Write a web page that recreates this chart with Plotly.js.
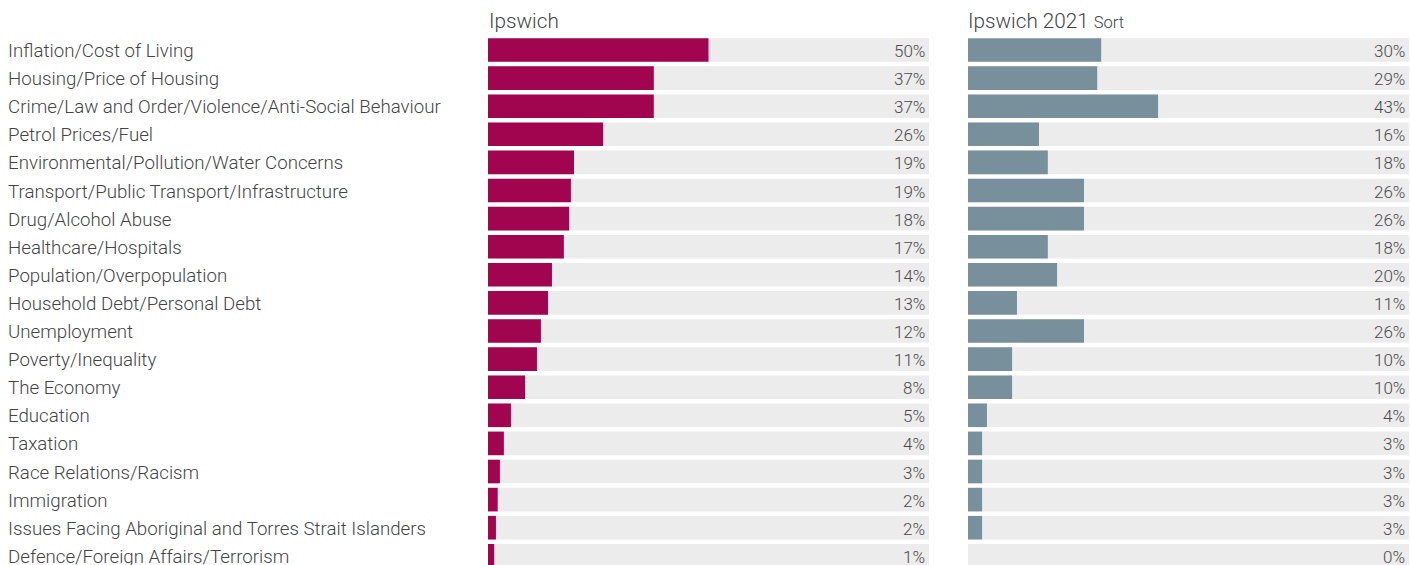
<!DOCTYPE html>
<html>
<head>
<meta charset="utf-8">
<script src="https://cdn.plot.ly/plotly-3.0.1.min.js"></script>
<style>html,body{margin:0;padding:0;background:#fff;}#chart{width:1410px;height:565px;}</style>
</head>
<body>
<div id="chart"></div>
<script>
var categories = [
  "Inflation/Cost of Living",
  "Housing/Price of Housing",
  "Crime/Law and Order/Violence/Anti-Social Behaviour",
  "Petrol Prices/Fuel",
  "Environmental/Pollution/Water Concerns",
  "Transport/Public Transport/Infrastructure",
  "Drug/Alcohol Abuse",
  "Healthcare/Hospitals",
  "Population/Overpopulation",
  "Household Debt/Personal Debt",
  "Unemployment",
  "Poverty/Inequality",
  "The Economy",
  "Education",
  "Taxation",
  "Race Relations/Racism",
  "Immigration",
  "Issues Facing Aboriginal and Torres Strait Islanders",
  "Defence/Foreign Affairs/Terrorism"
];
var ipswich = [50.0, 37.6, 37.6, 26.1, 19.5, 18.8, 18.4, 17.2, 14.5, 13.6, 12.0, 11.1, 8.4, 5.2, 3.6, 2.7, 2.2, 1.8, 1.4];
var ipswichLabels = ["50%","37%","37%","26%","19%","19%","18%","17%","14%","13%","12%","11%","8%","5%","4%","3%","2%","2%","1%"];
var ipswich2021 = [30.2, 29.3, 43.1, 16.1, 18.1, 26.3, 26.3, 18.1, 20.2, 11.1, 26.3, 10.0, 10.0, 4.3, 3.2, 3.2, 3.2, 3.2, 0.0];
var ipswich2021Labels = ["30%","29%","43%","16%","18%","26%","26%","18%","20%","11%","26%","10%","10%","4%","3%","3%","3%","3%","0%"];
var fullScale = categories.map(function(){ return 100; });

var FONT = "Roboto, 'Open Sans', sans-serif";
var TXT = "#4a4a4a";
var BARW = 0.84;

var traces = [
  {type:"bar", orientation:"h", y:categories, x:fullScale, xaxis:"x", yaxis:"y",
   marker:{color:"#ececec"}, width:BARW, hoverinfo:"skip", showlegend:false},
  {type:"bar", orientation:"h", y:categories, x:ipswich, xaxis:"x", yaxis:"y",
   marker:{color:"#a10550"}, width:BARW, hoverinfo:"skip", showlegend:false},
  {type:"bar", orientation:"h", y:categories, x:fullScale, xaxis:"x2", yaxis:"y2",
   marker:{color:"#ececec"}, width:BARW, hoverinfo:"skip", showlegend:false},
  {type:"bar", orientation:"h", y:categories, x:ipswich2021, xaxis:"x2", yaxis:"y2",
   marker:{color:"#78909c"}, width:BARW, hoverinfo:"skip", showlegend:false}
];

var yr = [18.327, -1.779];
var annotations = [];
categories.forEach(function(c, i){
  annotations.push({xref:"paper", yref:"y", x:6/1410, y:i, yshift:-1, text:c, showarrow:false,
    xanchor:"left", yanchor:"middle", font:{family:FONT, size:18.7, color:"#444", weight:300}});
  annotations.push({xref:"x", yref:"y", x:100, y:i, yshift:-1, text:ipswichLabels[i], showarrow:false,
    xanchor:"right", yanchor:"middle", xshift:-2, font:{family:FONT, size:17, color:TXT, weight:300}});
  annotations.push({xref:"x2", yref:"y2", x:100, y:i, yshift:-1, text:ipswich2021Labels[i], showarrow:false,
    xanchor:"right", yanchor:"middle", xshift:-2, font:{family:FONT, size:17, color:TXT, weight:300}});
});
annotations.push({xref:"paper", yref:"paper", x:487/1410, y:1-21/565, text:"Ipswich", showarrow:false,
  xanchor:"left", yanchor:"middle", font:{family:FONT, size:20.7, color:"#444", weight:300}});
annotations.push({xref:"paper", yref:"paper", x:966/1410, y:1-21/565,
  text:"Ipswich 2021 <span style='font-size:16.5px'>Sort</span>", showarrow:false,
  xanchor:"left", yanchor:"middle", font:{family:FONT, size:20.7, color:"#444", weight:300}});

var layout = {
  width:1410, height:565,
  margin:{l:0, r:0, t:0, b:0, pad:0},
  paper_bgcolor:"#fff", plot_bgcolor:"rgba(0,0,0,0)",
  barmode:"overlay", showlegend:false,
  font:{family:FONT},
  xaxis:{domain:[488/1410, 929/1410], range:[0,100], visible:false, fixedrange:true},
  xaxis2:{domain:[968/1410, 1409/1410], range:[0,100], visible:false, fixedrange:true},
  yaxis:{type:"category", categoryarray:categories, range:yr, autorange:false, visible:false, anchor:"x"},
  yaxis2:{type:"category", categoryarray:categories, range:yr, autorange:false, visible:false, anchor:"x2", matches:"y"},
  annotations:annotations
};

Plotly.newPlot("chart", traces, layout, {displayModeBar:false, staticPlot:true});
</script>
</body>
</html>
